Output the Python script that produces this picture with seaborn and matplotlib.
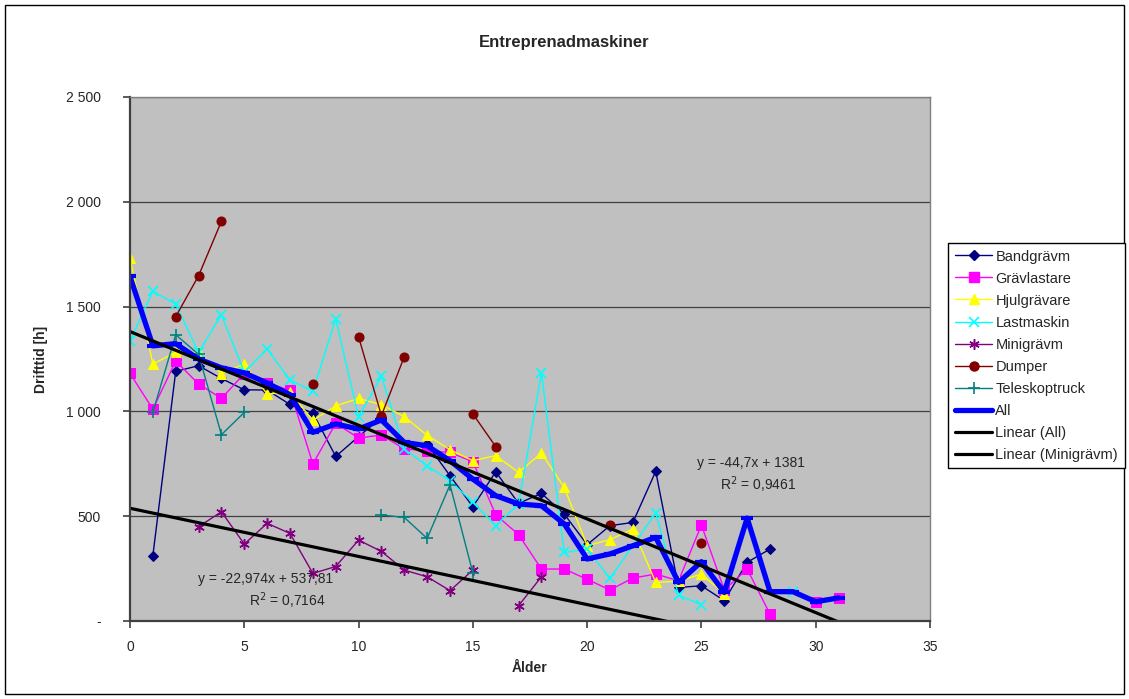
import matplotlib
matplotlib.use("Agg")
import matplotlib.pyplot as plt
from matplotlib.lines import Line2D
from matplotlib.patches import Rectangle
from matplotlib.ticker import FuncFormatter, MultipleLocator
import numpy as np
import pandas as pd
import seaborn as sns

# Operating hours per machine age (None breaks the line)
bandgravm_x = list(range(1, 29))
bandgravm_y = [312, 1191, 1218, 1157, 1103, 1102, 1033, 993, 785, 880, 971, 828, 844,
               693, 545, 712, 561, 609, 510, 364, 455, 470, 714, 160, 168, 97, 280, 343]

gravlastare_x = list(range(0, 32))
gravlastare_y = [1181, 1011, 1240, 1131, 1062, 1180, 1136, 1100, 749, 943, 873, 887, 821,
                 812, 804, 760, 507, 412, 248, 248, 199, 148, 205, 224, 192, 458, 148,
                 248, 33, None, 92, 110]

hjulgravare_x = list(range(0, 27))
hjulgravare_y = [1730, 1226, 1282, 1282, 1180, 1226, 1083, 1091, 957, 1026, 1062, 1032,
                 975, 886, 817, 765, 789, 709, 801, 637, 359, 388, 439, 184, 190, 224, 130]

lastmaskin_x = list(range(0, 22)) + [23, 24, 25, 26, 29]
lastmaskin_y = [1337, 1573, 1512, 1282, 1461, 1186, 1298, 1150, 1096, 1441, 975, 1167,
                821, 740, 669, 566, 455, 558, 1183, 327, 343, 203, 515, 123, 78, None, 140]

minigravm_x = list(range(3, 19))
minigravm_y = [450, 521, 367, 466, 418, 227, 260, 386, 332, 243, 211, 145, 243, None, 73, 211]

dumper_x = [2, 3, 4, 5, 8, 9, 10, 11, 12, 13, 15, 16, 17, 21, 22, 25]
dumper_y = [1452, 1647, 1907, None, 1131, None, 1356, 980, 1261, None, 988, 832, None,
            458, None, 370]

teleskop_x = [1, 2, 3, 4, 5, 6, 11, 12, 13, 14, 15]
teleskop_y = [995, 1366, 1272, 889, 995, None, 506, 494, 394, 650, 229]

all_x = list(range(0, 32))
all_y = [1644, 1313, 1323, 1250, 1208, 1184, 1135, 1080, 900, 940, 916, 959, 852, 836,
         765, 677, 598, 558, 550, 463, 296, 320, 359, 399, 184, 283, 136, 491, 140, 140,
         92, 110]

# Linear trend coefficients (slope, intercept, R²)
trend_all = (-44.7, 1381, 0.9461)
trend_mini = (-22.974, 537.81, 0.7164)

labels = ["Bandgrävm", "Grävlastare", "Hjulgrävare", "Lastmaskin", "Minigrävm",
          "Dumper", "Teleskoptruck", "All", "Linear (All)", "Linear (Minigrävm)"]

sns.set_style("white")
plt.rcParams["font.family"] = ["Liberation Sans", "DejaVu Sans"]

fig = plt.figure(figsize=(11.29, 6.99), dpi=100)
ax = fig.add_axes([130 / 1129, 1 - 621 / 699, 800 / 1129, 524 / 699])
ax.set_facecolor("#C0C0C0")

styles = [
    dict(color="#000080", marker="D", markersize=5.5, lw=1.0),
    dict(color="#FF00FF", marker="s", markersize=6.5, lw=1.0),
    dict(color="#FFFF00", marker="^", markersize=7.5, lw=1.0),
    dict(color="#00FFFF", marker="x", markersize=7, lw=1.0, mew=1.2),
    dict(color="#800080", marker=(6, 2, 0), markersize=7.5, lw=1.0, mew=1.1),
    dict(color="#800000", marker="o", markersize=6.5, lw=1.0),
    dict(color="#008080", marker="+", markersize=8, lw=1.0, mew=1.2),
    dict(color="#0000FF", marker="_", markersize=8, lw=3.8, mew=3),
]

series = [(bandgravm_x, bandgravm_y), (gravlastare_x, gravlastare_y),
          (hjulgravare_x, hjulgravare_y), (lastmaskin_x, lastmaskin_y),
          (minigravm_x, minigravm_y), (dumper_x, dumper_y),
          (teleskop_x, teleskop_y), (all_x, all_y)]


def segmented(xs, ys):
    seg, rows = 0, []
    for x, y in zip(xs, ys):
        if y is None:
            seg += 1
            continue
        rows.append((x, y, seg))
    return pd.DataFrame(rows, columns=["x", "y", "seg"])


for (xs, ys), st in zip(series, styles):
    df = segmented(xs, ys)
    st = dict(st)
    color = st.pop("color")
    kw = dict(markerfacecolor=color, markeredgecolor=color)
    kw.update(st)
    for _, part in df.groupby("seg"):
        sns.lineplot(data=part, x="x", y="y", ax=ax, color=color, legend=False,
                     estimator=None, sort=False, **kw)

# Trend lines
tx_all = np.array([0, 32])
tx_mini = np.array([0, 25])
sns.lineplot(x=tx_all, y=trend_all[0] * tx_all + trend_all[1], ax=ax, color="black", lw=2.3)
sns.lineplot(x=tx_mini, y=trend_mini[0] * tx_mini + trend_mini[1], ax=ax, color="black", lw=2.3)


def fmt_num(v):
    return str(v).replace(".", ",")


ax.text(27.15, 755, f"y = {fmt_num(trend_all[0])}x + {fmt_num(trend_all[1])}",
        ha="center", va="center", fontsize=10)
ax.text(27.5, 650, f"R$^2$ = {fmt_num(trend_all[2])}", ha="center", va="center", fontsize=10)
ax.text(5.92, 202, f"y = {fmt_num(trend_mini[0])}x + {fmt_num(trend_mini[1])}",
        ha="center", va="center", fontsize=10)
ax.text(6.9, 97, f"R$^2$ = {fmt_num(trend_mini[2])}", ha="center", va="center", fontsize=10)

ax.set_xlim(0, 35)
ax.set_ylim(0, 2500)
ax.xaxis.set_major_locator(MultipleLocator(5))
ax.yaxis.set_major_locator(MultipleLocator(500))
ax.yaxis.set_major_formatter(FuncFormatter(
    lambda v, p: "-" if v == 0 else f"{v:,.0f}".replace(",", " ")))
ax.grid(axis="y", color="#404040", lw=0.9)
ax.set_axisbelow(True)
ax.tick_params(axis="both", direction="out", length=5, width=1.2, color="#404040",
               labelsize=10, left=True, bottom=True)
ax.tick_params(axis="y", pad=16)
ax.tick_params(axis="x", pad=9)
for side in ("left", "bottom"):
    ax.spines[side].set_color("#404040")
    ax.spines[side].set_linewidth(1.6)
for side in ("top", "right"):
    ax.spines[side].set_color("#808080")
    ax.spines[side].set_linewidth(1.0)

ax.set_xlabel("Ålder", fontsize=10, fontweight="bold", labelpad=5)
ax.set_ylabel("Drifttid [h]", fontsize=10, fontweight="bold", labelpad=13)
fig.text(0.5, 1 - 42 / 699, "Entreprenadmaskiner", ha="center", va="center",
         fontsize=12, fontweight="bold")

handles = []
for st in styles:
    st = dict(st)
    color = st.pop("color")
    marker = st.pop("marker")
    if marker == "_":
        marker = None
        st.pop("markersize"); st.pop("mew")
    handles.append(Line2D([], [], color=color, marker=marker,
                          markerfacecolor=color, markeredgecolor=color, **st))
handles.append(Line2D([], [], color="black", lw=2.3))
handles.append(Line2D([], [], color="black", lw=2.3))
leg = fig.legend(handles, labels, loc="upper left",
                 bbox_to_anchor=(948 / 1129, 1 - 243 / 699), fontsize=10.5,
                 frameon=True, fancybox=False, edgecolor="black", framealpha=1,
                 borderaxespad=0, handlelength=2.6, handletextpad=0.2,
                 labelspacing=0.55, borderpad=0.45)
leg.get_frame().set_linewidth(1.0)

fig.patches.append(Rectangle((5 / 1129, 5 / 699), 1119 / 1129, 689 / 699,
                             transform=fig.transFigure, fill=False,
                             edgecolor="black", lw=1.0))

fig.savefig("out.png", dpi=100)
